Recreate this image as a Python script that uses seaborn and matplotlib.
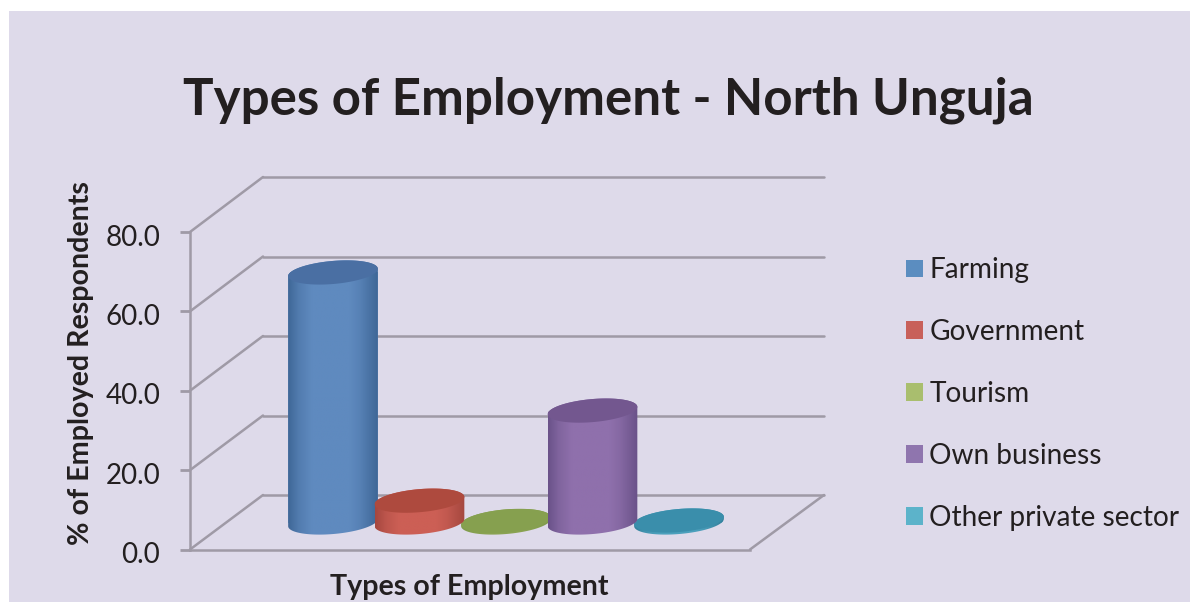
import numpy as np
import pandas as pd
import matplotlib
matplotlib.use("Agg")
import matplotlib.pyplot as plt
import seaborn as sns
from matplotlib.patches import Patch, Polygon, Rectangle
from matplotlib.path import Path
from matplotlib.colors import LinearSegmentedColormap
from matplotlib.transforms import IdentityTransform, Affine2D

categories = ["Farming", "Government", "Tourism", "Own business", "Other private sector"]
values = [63.0, 5.5, 0.4, 28.2, 0.5]
y_ticks = [0, 20, 40, 60, 80]
y_tick_labels = ["0.0", "20.0", "40.0", "60.0", "80.0"]

legend_colors = ["#5B8DC0", "#C8605A", "#A9BE6E", "#8F75AE", "#5CB3CA"]
side_colors = ["#3F6797", "#A5473F", "#7E9A4C", "#6A5289", "#33809C"]
mid_colors = ["#5F8ABF", "#CC5F55", "#8AA352", "#8F70AC", "#4CA0BC"]
top_colors = ["#4A6FA3", "#AE4A3E", "#86A04F", "#73578F", "#3A8EAB"]
layer_order = [1, 3, 2, 4, 2]

INK = "#231F20"
GRID = "#9F9AA6"
PANEL = "#DEDAEA"

W, H = 1190, 602
sns.set_theme(style="white")
plt.rcParams["font.family"] = ["Lato", "DejaVu Sans"]

fig = plt.figure(figsize=(W / 100, H / 100), dpi=100, facecolor="white")
fig.add_artist(Rectangle((9 / W, 0), 1 - 9 / W, 1 - 11 / H, transform=fig.transFigure,
                         facecolor=PANEL, edgecolor="none", zorder=-5))


def px_axes(left, right, bottom_y, top_y, z):
    """Axes placed by pixel edges measured from the top-left corner."""
    ax = fig.add_axes([left / W, 1 - bottom_y / H, (right - left) / W, (bottom_y - top_y) / H], zorder=z)
    ax.patch.set_alpha(0)
    return ax


# Back wall, front plane and the mid-depth plane holding the cylinders
back = px_axes(263, 824, 495, 177, 0)
front = px_axes(190, 750, 549.5, 232, 1)
mid = px_axes(227, 787, 522.5, 205, 2)

for ax in (back, front, mid):
    ax.set_ylim(0, 80)

back.set_xlim(0, 1)
back.set_xticks([])
back.set_yticks(y_ticks)
back.tick_params(left=False, labelleft=False)
back.grid(axis="y", color=GRID, lw=1.8)
back.set_axisbelow(True)
for gridline in back.get_ygridlines():
    gridline.set_clip_on(False)
sns.despine(ax=back, left=True, bottom=True)

front.set_xlim(0, 1)
front.set_xticks([])
front.set_yticks(y_ticks)
front.set_yticklabels(y_tick_labels, fontsize=20, color=INK)
front.tick_params(axis="y", left=True, length=7.5, width=2, color=GRID, pad=14)
for label in front.get_yticklabels():
    label.set_transform(label.get_transform() + Affine2D().translate(0, -3))
sns.despine(ax=front)
for side in ("left", "bottom"):
    front.spines[side].set_color(GRID)
    front.spines[side].set_linewidth(1.8)

fig.canvas.draw()

# Side wall and floor edges joining the front plane to the back wall
for v in y_ticks:
    p0 = front.transData.transform((0, v))
    p1 = back.transData.transform((0, v))
    front.plot([p0[0], p1[0]], [p0[1], p1[1]], color=GRID, lw=1.8,
               transform=IdentityTransform(), clip_on=False)
p0 = front.transData.transform((1, 0))
p1 = back.transData.transform((1, 0))
front.plot([p0[0], p1[0]], [p0[1], p1[1]], color=GRID, lw=1.8,
           transform=IdentityTransform(), clip_on=False)

frame = pd.DataFrame({"category": categories, "value": values})
sns.barplot(data=frame, x="category", y="value", hue="category", palette=mid_colors,
            width=1.04, legend=False, ax=mid, saturation=1)
mid.set_xlim((227 - 333) / 86.5, (787 - 333) / 86.5)
mid.set_ylim(0, 80)
mid.set_axis_off()
fig.canvas.draw()

ELL_W, ELL_H, TILT = 90, 23, np.deg2rad(5)


def rim(center, t):
    x = ELL_W / 2 * np.cos(t)
    y = ELL_H / 2 * np.sin(t)
    return np.column_stack([center[0] + x * np.cos(TILT) - y * np.sin(TILT),
                            center[1] + x * np.sin(TILT) + y * np.cos(TILT)])


bars = sorted([p for p in mid.patches if isinstance(p, Rectangle)], key=lambda b: b.get_x())
for i, (bar, v) in enumerate(zip(bars, values)):
    z = 5 + layer_order[i] * 2
    base = mid.transData.transform((i, 0))
    top = mid.transData.transform((i, v))
    outline = np.vstack([rim(base, np.linspace(np.pi, 2 * np.pi, 60)),
                         rim(top, np.linspace(0, np.pi, 60))])
    body = Path(np.vstack([outline, outline[:1]]), closed=True)
    bar.set_clip_box(fig.bbox)
    bar.set_clip_path(body, IdentityTransform())
    bar.set_zorder(z)
    bar.set_edgecolor("none")
    ramp = np.interp(np.linspace(0, 1, 200), [0, .12, .45, .8, 1], [0, .2, .5, .75, 1])[None, :]
    img = mid.imshow(ramp,
                     cmap=LinearSegmentedColormap.from_list(
                         "shade", [side_colors[i], mid_colors[i], mid_colors[i], side_colors[i]]),
                     aspect="auto", zorder=z + 0.1, interpolation="bilinear")
    x0, x1 = outline[:, 0].min(), outline[:, 0].max()
    y0, y1 = outline[:, 1].min(), outline[:, 1].max()
    img.set_extent((x0, x1, y0, y1))
    img.set_transform(IdentityTransform())
    img.set_clip_box(fig.bbox)
    img.set_clip_path(body, IdentityTransform())
    mid.add_patch(Polygon(rim(top, np.linspace(0, 2 * np.pi, 120)), closed=True,
                          transform=IdentityTransform(), facecolor=top_colors[i],
                          edgecolor="none", zorder=z + 0.2, clip_on=False))
mid.set_xlim((227 - 333) / 86.5, (787 - 333) / 86.5)
mid.set_ylim(0, 80)

fig.text(608 / W, 1 - 100 / H, "Types of Employment - North Unguja", fontsize=36.85, fontweight="bold",
         color=INK, ha="center", va="center")
fig.text(81 / W, 1 - 363 / H, "% of Employed Respondents", fontsize=20.6, fontweight="bold",
         color=INK, rotation=90, ha="center", va="center")
fig.text(469.5 / W, 1 - 587 / H, "Types of Employment", fontsize=20.6, fontweight="bold",
         color=INK, ha="center", va="center")

handles = [Patch(facecolor=c, edgecolor="none", label=n) for c, n in zip(legend_colors, categories)]
leg = fig.legend(handles=handles, loc="center left", bbox_to_anchor=(906 / W, 1 - 394 / H),
                 frameon=False, fontsize=20.2, handlelength=0.6, handleheight=0.6,
                 handletextpad=0.23, labelspacing=1.277, borderpad=0, borderaxespad=0, labelcolor=INK)

fig.savefig("out.png", dpi=100, facecolor="white")
